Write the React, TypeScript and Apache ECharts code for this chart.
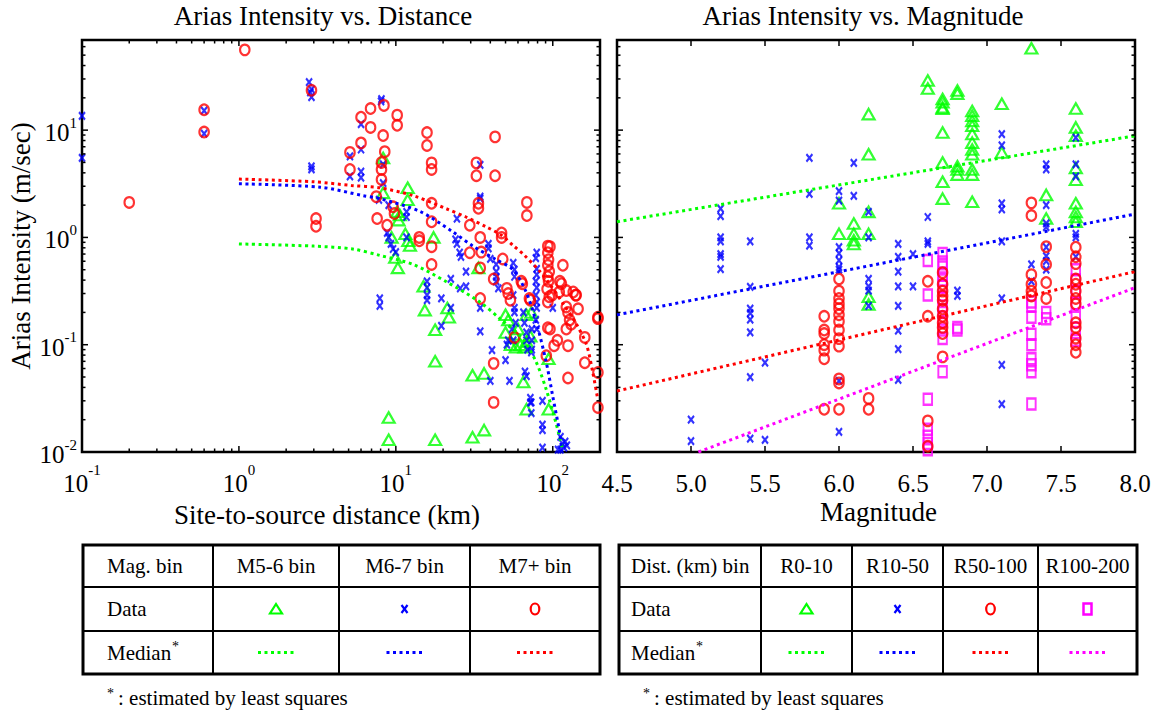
import React, { useEffect, useRef } from "react";
import * as echarts from "echarts";

const FONT = "Liberation Serif, Times New Roman, Times, serif";
const GREEN = "#00ff00";
const BLUE = "#0000ff";
const RED = "#ff0000";
const MAGENTA = "#ff00ff";

// ---------- axis ranges & tick values ----------
const distRange: [number, number] = [0.1, 200];
const aiRange: [number, number] = [0.01, 69.2];
const magRange: [number, number] = [4.5, 8.0];
const distMajor = [0.1, 1, 10, 100];
const distMinor = [0.2, 0.3, 0.4, 0.5, 0.6, 0.7, 0.8, 0.9, 2, 3, 4, 5, 6, 7, 8, 9, 20, 30, 40, 50, 60, 70, 80, 90];
const aiMajor = [0.01, 0.1, 1, 10];
const aiMinor = [0.02, 0.03, 0.04, 0.05, 0.06, 0.07, 0.08, 0.09, 0.2, 0.3, 0.4, 0.5, 0.6, 0.7, 0.8, 0.9, 2, 3, 4, 5, 6, 7, 8, 9, 20, 30, 40, 50, 60];
const magMajor = [4.5, 5.0, 5.5, 6.0, 6.5, 7.0, 7.5, 8.0];

// ---------- left panel: [distance (km), Arias intensity (m/sec)] ----------
const m56Data = [
  [8.3, 5.5], [8.3, 2.6], [11.9, 2.9], [11.9, 2.24], [10.2, 1.74], [10.6, 1.62], [10.4, 1.45], [11.5, 1.08], [12.0, 0.93], [12.3, 0.84], [9.4, 1.0],
  [9.9, 0.65], [10.3, 0.52], [17.4, 1.0], [15.0, 0.35], [15.3, 0.21], [21.3, 0.22], [21.8, 0.18], [17.8, 0.138], [17.8, 0.07],
  [30.8, 0.052], [36.5, 0.054], [9.0, 0.021], [9.0, 0.013], [17.8, 0.013], [30.8, 0.0137], [36.5, 0.016], [33.6, 0.52],
  [50, 0.19], [50, 0.13], [68, 0.107], [66, 0.095], [72, 0.12], [68, 0.19], [65, 0.045], [68, 0.025], [94, 0.074], [94, 0.025],
  [60, 0.14], [62, 0.1], [57, 0.125], [52, 0.17], [73, 0.2], [54, 0.1], [58, 0.095],
];
const m67Data = [
  [0.1, 13.6], [0.1, 5.5], [0.6, 15.2], [0.6, 9.3], [2.8, 28], [2.9, 24], [2.9, 20.3], [2.85, 22.5], [2.9, 4.6], [2.9, 4.3],
  [7.9, 0.27], [7.9, 0.23], [8.05, 18.5], [8.1, 19.5], [6.0, 11.4], [5.1, 5.7], [5.1, 3.7], [6.0, 6.6], [6.0, 4.1], [6.0, 3.6],
  [8.3, 4.8], [8.3, 3.2], [7.8, 2.24], [9.0, 2.0], [9.0, 1.0], [9.3, 0.87], [9.6, 0.78], [10.0, 0.73], [8.8, 1.1],
  [11.7, 1.73], [11.7, 1.55], [11.7, 1.0], [15.8, 0.39], [15.8, 0.34], [15.8, 0.29], [15.8, 0.26], [19.5, 0.27], [22.4, 0.41],
  [22.4, 0.22], [19.5, 0.15], [24.5, 1.5], [24, 0.96], [24.5, 0.87], [25.5, 0.72], [26, 0.66], [28, 0.48], [28, 0.35], [25.7, 0.335],
  [34.5, 2.4], [34.5, 2.3], [34.5, 4.75], [34.5, 0.22], [34.5, 0.133], [41, 0.089], [40, 0.046], [50, 0.072], [53, 0.046],
  [66.5, 0.056], [72, 0.032], [72, 0.029], [38.9, 0.87], [38.9, 0.79], [40, 0.63], [43.6, 0.56], [43.6, 0.48], [43.6, 0.43],
  [43.6, 0.39], [45, 0.335], [56, 0.58], [57, 0.5], [57, 0.43], [56, 0.29], [57, 0.22], [57, 0.2], [58, 0.16], [51, 0.1], [52, 0.11],
  [55, 0.14], [56, 0.11], [65, 0.2], [66, 0.16], [68, 0.13], [68, 0.11], [69, 0.09], [73.5, 0.14], [73.5, 0.11], [73.5, 0.09],
  [73, 0.085], [68, 0.051], [78, 0.64], [79, 0.51], [79, 0.45], [78, 0.39], [79, 0.34], [78, 0.29], [79, 0.25], [79, 0.22],
  [78, 0.17], [79, 0.14], [79, 0.72], [100, 0.22], [73, 0.029], [73, 0.023], [86, 0.03], [86, 0.018], [86, 0.016], [86, 0.011],
  [112, 0.0138], [115, 0.012], [118, 0.011], [120, 0.0125], [112, 0.0105], [123, 0.0115], [108, 0.0105],
];
const m7Data = [
  [0.2, 2.12], [0.6, 15.5], [0.6, 9.6], [1.09, 56], [2.9, 23.5], [3.1, 1.5], [3.1, 1.27],
  [5.1, 6.2], [5.1, 4.3], [6.0, 13.2], [6.9, 15.9], [6.9, 10.6], [6.0, 7.6], [8.4, 17], [8.3, 8.9], [8.5, 6.3], [8.1, 5.0],
  [8.1, 4.3], [8.1, 3.47], [7.6, 1.5], [7.5, 2.4], [9.6, 1.93], [8.8, 1.3], [10.2, 13.8], [10.2, 11.1], [9.8, 1.67],
  [15.8, 9.5], [15.8, 7.2], [16.9, 4.95], [16.9, 4.3], [16.9, 2.08], [16.9, 1.4], [16.9, 0.82], [16.9, 0.56], [14.1, 1.0], [14.1, 0.93],
  [32.6, 4.95], [32.6, 3.76], [42.9, 8.65], [42.9, 3.76], [33.6, 2.08], [33.6, 1.87], [29.6, 1.3], [34.5, 1.0], [35, 0.73],
  [34.5, 0.52], [34.5, 0.27], [29.6, 0.72], [47.2, 1.1], [47.2, 1.0], [48, 0.63], [42, 0.41], [42, 0.067], [42, 0.029],
  [68.4, 2.12], [68.4, 1.6], [51, 0.335], [52, 0.3], [53.7, 0.26], [63, 0.39], [64, 0.37], [71, 0.27], [72, 0.26], [57, 0.117],
  [93, 0.83], [96, 0.82], [93, 0.72], [94, 0.62], [93, 0.55], [95, 0.48], [93, 0.43], [94, 0.39], [92, 0.33], [95, 0.28], [93, 0.25],
  [116, 0.55], [113.5, 0.37], [141, 0.29], [145, 0.216], [122, 0.225], [125, 0.2], [128, 0.17], [131, 0.155], [122, 0.14],
  [93, 0.144], [96, 0.14], [107, 0.11], [102, 0.098], [91, 0.079], [125, 0.098], [160, 0.117], [160, 0.068], [125, 0.049],
  [194, 0.18], [194, 0.175], [194, 0.055], [194, 0.026], [99, 0.29], [110, 0.31], [122, 0.32], [135, 0.31], [111, 0.39], [140, 0.29],
];
const m56Median = [[1, 0.87], [3, 0.83], [5.3, 0.78], [7.9, 0.68], [12.9, 0.56], [21, 0.386], [34.3, 0.25], [46, 0.175], [64.6, 0.113], [78.7, 0.068], [91, 0.038], [105, 0.0185], [116, 0.0104]];
const m67Median = [[1, 3.16], [3.3, 2.94], [6.2, 2.45], [7.9, 2.3], [14.2, 1.75], [22.6, 1.15], [31, 0.83], [43.6, 0.62], [55.8, 0.5], [67.6, 0.31], [78.7, 0.16], [91, 0.068], [100, 0.033], [111, 0.0148], [114, 0.0102]];
const m7Median = [[1, 3.5], [3, 3.3], [5.2, 3.05], [7.9, 2.9], [12.9, 2.45], [21, 1.85], [28, 1.55], [37.8, 1.25], [47, 1.05], [56, 0.84], [66, 0.68], [83, 0.48], [94, 0.38], [119, 0.23], [140, 0.16], [164, 0.1], [180, 0.055], [192, 0.033]];

// ---------- right panel: [magnitude, Arias intensity (m/sec)] ----------
const r0_10Data = [
  [7.3, 58], [6.6, 29], [6.6, 24.4], [6.7, 19.5], [6.7, 18.2], [6.7, 16.3], [6.7, 15.8], [6.8, 23.4], [6.8, 21.9],
  [6.9, 15.1], [6.9, 13.6], [6.9, 12.2], [6.9, 11], [6.9, 9.2], [6.9, 7.65], [6.9, 6.6], [6.9, 5.95], [7.1, 17.6], [7.1, 6.2],
  [6.7, 9.5], [6.7, 5.0], [6.7, 3.3], [6.7, 2.3], [6.8, 4.6], [6.8, 4.3], [6.8, 3.85], [6.9, 4.3], [6.9, 3.85], [6.9, 2.15],
  [6.2, 14.1], [6.2, 5.95], [6.2, 1.73], [6.2, 1.08], [6.2, 0.28], [6.2, 0.237], [6.0, 2.08], [6.0, 1.08], [6.1, 1.35], [6.1, 1.08],
  [6.1, 0.94], [6.1, 0.87], [7.4, 2.49], [7.4, 1.5], [7.6, 15.9], [7.6, 10.6], [7.6, 8.85], [7.6, 4.45], [7.6, 3.45], [7.6, 2.08],
  [7.6, 1.73], [7.6, 1.55], [7.6, 1.4],
];
const r10_50Data = [
  [5.8, 5.5], [5.8, 2.55], [5.8, 1.0], [5.8, 0.84], [6.1, 4.95], [6.1, 2.44], [6.0, 2.7], [6.0, 2.2], [6.0, 0.81], [6.0, 0.71],
  [6.0, 0.61], [6.0, 0.53], [6.0, 0.5], [6.0, 0.046], [6.0, 0.0154], [5.2, 1.86], [5.2, 1.58], [5.2, 1.0], [5.2, 0.92], [5.2, 0.7],
  [5.2, 0.66], [5.2, 0.506], [5.4, 0.92], [5.4, 0.346], [5.4, 0.217], [5.4, 0.197], [5.4, 0.171], [5.4, 0.13], [5.4, 0.05],
  [5.4, 0.0133], [5.5, 0.068], [5.5, 0.013], [5.0, 0.02], [5.0, 0.0126], [6.2, 1.73], [6.2, 1.0], [6.2, 0.41], [6.2, 0.35],
  [6.2, 0.32], [6.2, 0.23], [6.4, 0.87], [6.4, 0.66], [6.4, 0.48], [6.4, 0.35], [6.4, 0.23], [6.4, 0.135], [6.4, 0.091], [6.4, 0.047],
  [6.5, 0.7], [6.5, 0.35], [6.6, 1.55], [6.6, 0.92], [6.6, 0.87], [6.8, 0.32], [6.8, 0.285], [7.1, 9.2], [7.1, 7.2], [7.1, 2.08],
  [7.1, 1.83], [7.1, 0.92], [7.1, 0.27], [7.1, 0.065], [7.1, 0.028], [7.3, 0.56], [7.3, 0.39], [7.4, 4.8], [7.4, 4.3], [7.4, 2.0],
  [7.4, 1.35], [7.4, 1.25], [7.4, 0.81], [7.4, 0.67], [7.4, 0.6], [7.4, 0.5], [7.6, 8.5], [7.6, 4.8], [7.6, 3.7], [7.6, 1.08],
  [7.6, 1.0], [7.6, 0.66],
];
const r50_100Data = [
  [5.9, 0.184], [5.9, 0.137], [5.9, 0.127], [5.9, 0.1], [5.9, 0.089], [5.9, 0.074], [5.9, 0.025],
  [6.0, 0.41], [6.0, 0.316], [6.0, 0.27], [6.0, 0.24], [6.0, 0.217], [6.0, 0.19], [6.0, 0.165], [6.0, 0.137], [6.0, 0.114],
  [6.0, 0.097], [6.0, 0.048], [6.0, 0.044], [6.0, 0.025], [6.2, 0.0316], [6.2, 0.025], [6.6, 0.39], [6.6, 0.184], [6.6, 0.0195],
  [6.6, 0.0113], [6.7, 0.47], [6.7, 0.366], [6.7, 0.316], [6.7, 0.285], [6.7, 0.26], [6.7, 0.215], [6.7, 0.184], [6.7, 0.16],
  [6.7, 0.145], [6.7, 0.127], [6.7, 0.077], [7.3, 2.1], [7.3, 1.6], [7.3, 0.45], [7.3, 0.366], [7.3, 0.316], [7.3, 0.285],
  [7.4, 0.82], [7.4, 0.56], [7.4, 0.38], [7.4, 0.27], [7.6, 0.81], [7.6, 0.66], [7.6, 0.57], [7.6, 0.41], [7.6, 0.366],
  [7.6, 0.316], [7.6, 0.27], [7.6, 0.24], [7.6, 0.16], [7.6, 0.145], [7.6, 0.115], [7.6, 0.1], [7.6, 0.085],
];
const r100_200Data = [
  [6.6, 0.61], [6.6, 0.29], [6.6, 0.031], [6.6, 0.0163], [6.6, 0.014], [6.6, 0.012], [6.6, 0.0105],
  [6.7, 0.71], [6.7, 0.59], [6.7, 0.53], [6.7, 0.45], [6.7, 0.4], [6.7, 0.35], [6.7, 0.27], [6.7, 0.23], [6.7, 0.2], [6.7, 0.165],
  [6.7, 0.137], [6.7, 0.114], [6.7, 0.056], [6.8, 0.145], [6.8, 0.137], [7.3, 0.25], [7.3, 0.23], [7.3, 0.18], [7.3, 0.125],
  [7.3, 0.1], [7.3, 0.074], [7.3, 0.065], [7.3, 0.056], [7.3, 0.028], [7.4, 0.2], [7.4, 0.175], [7.6, 0.5], [7.6, 0.4],
  [7.6, 0.31], [7.6, 0.24], [7.6, 0.18], [7.6, 0.13], [7.6, 0.11],
];
const r0_10Median = [[4.5, 1.4], [8.0, 8.85]];
const r10_50Median = [[4.5, 0.19], [8.0, 1.65]];
const r50_100Median = [[4.5, 0.037], [8.0, 0.48]];
const r100_200Median = [[5.05, 0.01], [8.0, 0.34]];

// ---------- legend table texts ----------
const leftHeaders = ["Mag. bin", "M5-6 bin", "M6-7 bin", "M7+ bin"];
const rightHeaders = ["Dist. (km) bin", "R0-10", "R10-50", "R50-100", "R100-200"];
const rowLabels = ["Data", "Median"];
const footnote = ": estimated by least squares";

// ---------- helpers ----------
const MAJOR_LEN = 6;
const MINOR_LEN = 3.5;

const supFmt = (v: number) => {
  const l = Math.log10(v);
  const e = Math.round(l);
  if (Math.abs(l - e) > 1e-6) return "";
  return `{b|10}{s|${e}}`;
};

const symStyle = (c: string, w = 2.2) => ({ color: "rgba(0,0,0,0)", borderColor: c, borderWidth: w });

const SYM = {
  tri: { symbol: "triangle", symbolSize: [12, 10.5] },
  cross: { symbol: "path://M0,0L6,7M6,0L0,7", symbolSize: [6, 7.5] },
  circ: { symbol: "circle", symbolSize: [9.5, 10.5] },
  sq: { symbol: "rect", symbolSize: [8.5, 11] },
};

const scatter = (xi: number, data: number[][], sym: any, color: string) => ({
  type: "scatter",
  xAxisIndex: xi,
  yAxisIndex: xi,
  data,
  ...sym,
  itemStyle: symStyle(color),
  clip: false,
  silent: true,
});

const median = (xi: number, data: number[][], color: string, smooth: boolean) => ({
  type: "line",
  xAxisIndex: xi,
  yAxisIndex: xi,
  data,
  showSymbol: false,
  symbol: "none",
  smooth: smooth ? 0.3 : false,
  silent: true,
  lineStyle: { color, width: 3, type: [3, 3.6] },
  z: 3,
});

const tickLine = (x1: number, y1: number, x2: number, y2: number) => ({
  type: "line",
  shape: { x1, y1, x2, y2 },
  style: { stroke: "#000", lineWidth: 1.5 },
});

const xTicks = (xi: number, major: number[], minor: number[], yr: [number, number]) => ({
  type: "custom",
  xAxisIndex: xi,
  yAxisIndex: xi,
  silent: true,
  z: 4,
  data: [...major.map((v) => [v, yr[0], MAJOR_LEN]), ...minor.map((v) => [v, yr[0], MINOR_LEN])],
  renderItem: (_p: any, api: any) => {
    const v = api.value(0);
    const len = api.value(2);
    const b = api.coord([v, yr[0]]);
    const t = api.coord([v, yr[1]]);
    return {
      type: "group",
      children: [tickLine(b[0], b[1], b[0], b[1] - len), tickLine(t[0], t[1], t[0], t[1] + len)],
    };
  },
});

const yTicks = (xi: number, major: number[], minor: number[], xr: [number, number]) => ({
  type: "custom",
  xAxisIndex: xi,
  yAxisIndex: xi,
  silent: true,
  z: 4,
  data: [...major.map((v) => [xr[0], v, MAJOR_LEN]), ...minor.map((v) => [xr[0], v, MINOR_LEN])],
  renderItem: (_p: any, api: any) => {
    const v = api.value(1);
    const len = api.value(2);
    const l = api.coord([xr[0], v]);
    const r = api.coord([xr[1], v]);
    return {
      type: "group",
      children: [tickLine(l[0], l[1], l[0] + len, l[1]), tickLine(r[0], r[1], r[0] - len, r[1])],
    };
  },
});

const txt = (x: number, y: number, text: string, align = "left", size = 21) => ({
  type: "text",
  x,
  y,
  silent: true,
  style: {
    text,
    fill: "#000",
    font: `${size}px ${FONT}`,
    textAlign: align,
    textVerticalAlign: "middle",
  },
});

const hline = (x1: number, x2: number, y: number, w: number) => ({
  type: "line", silent: true, shape: { x1, y1: y, x2, y2: y }, style: { stroke: "#000", lineWidth: w },
});
const vline = (x: number, y1: number, y2: number, w: number) => ({
  type: "line", silent: true, shape: { x1: x, y1, x2: x, y2 }, style: { stroke: "#000", lineWidth: w },
});

const ROW_Y = [566, 609, 652.5];
const TOP = 545, R1 = 587, R2 = 631, BOT = 674;

function table(cols: number[], headers: string[], markers: string[], colors: string[], textOff: number) {
  const els: any[] = [];
  const x0 = cols[0], x1 = cols[cols.length - 1];
  els.push(hline(x0, x1, R1, 2), hline(x0, x1, R2, 2));
  for (let i = 1; i < cols.length - 1; i++) els.push(vline(cols[i], TOP, BOT, 2));
  els.push({ type: "rect", silent: true, shape: { x: x0, y: TOP, width: x1 - x0, height: BOT - TOP }, style: { fill: "none", stroke: "#000", lineWidth: 3 } });
  els.push(txt(x0 + textOff, ROW_Y[0], headers[0]));
  els.push(txt(x0 + textOff, ROW_Y[1], rowLabels[0]));
  els.push(txt(x0 + textOff, ROW_Y[2], rowLabels[1]));
  els.push(txt(x0 + textOff + 65, ROW_Y[2] - 6, "*", "left", 14));
  for (let i = 1; i < headers.length; i++) {
    const cx = (cols[i] + cols[i + 1]) / 2;
    const c = colors[i - 1];
    els.push(txt(cx, ROW_Y[0], headers[i], "center"));
    const cy = ROW_Y[1];
    const m = markers[i - 1];
    const st = { fill: "none", stroke: c, lineWidth: 2.2 };
    if (m === "tri") els.push({ type: "polygon", silent: true, shape: { points: [[cx - 6, cy + 4.5], [cx + 6, cy + 4.5], [cx, cy - 5]] }, style: st });
    if (m === "cross") els.push(
      { type: "line", silent: true, shape: { x1: cx - 3, y1: cy - 4, x2: cx + 3, y2: cy + 4 }, style: st },
      { type: "line", silent: true, shape: { x1: cx + 3, y1: cy - 4, x2: cx - 3, y2: cy + 4 }, style: st },
    );
    if (m === "circ") els.push({ type: "ellipse", silent: true, shape: { cx, cy, rx: 4.3, ry: 5.5 }, style: st });
    if (m === "sq") els.push({ type: "rect", silent: true, shape: { x: cx - 4, y: cy - 5.5, width: 8, height: 11 }, style: { ...st, lineWidth: 2.5 } });
    els.push({ type: "line", silent: true, shape: { x1: cx - 18, y1: ROW_Y[2], x2: cx + 18, y2: ROW_Y[2] }, style: { stroke: c, lineWidth: 3, lineDash: [3, 3.5] } });
  }
  els.push(txt(x0 + 24, 693, "*", "left", 14));
  els.push(txt(x0 + 35, 698, footnote));
  return els;
}

const axisNameStyle = { fontFamily: FONT, fontSize: 27, color: "#000" };

const option: any = {
  animation: false,
  backgroundColor: "#fff",
  grid: [
    { left: 82, top: 40, width: 518, height: 412, show: true, borderColor: "#000", borderWidth: 2.5, backgroundColor: "rgba(0,0,0,0)", containLabel: false, outerBoundsMode: "none" },
    { left: 617, top: 40, width: 518, height: 412, show: true, borderColor: "#000", borderWidth: 2.5, backgroundColor: "rgba(0,0,0,0)", containLabel: false, outerBoundsMode: "none" },
  ],
  xAxis: [
    {
      gridIndex: 0, type: "log", logBase: 10, min: distRange[0], max: distRange[1],
      axisLine: { show: false }, axisTick: { show: false }, splitLine: { show: false },
      axisLabel: {
        formatter: supFmt, margin: 10, showMinLabel: true, showMaxLabel: true, hideOverlap: false,
        rich: {
          b: { fontFamily: FONT, fontSize: 25, lineHeight: 34, verticalAlign: "bottom", color: "#000" },
          s: { fontFamily: FONT, fontSize: 15, verticalAlign: "top", color: "#000" },
        },
      },
      name: "Site-to-source distance (km)", nameLocation: "middle", nameGap: 49, nameMoveOverlap: false,
      nameTextStyle: { ...axisNameStyle, padding: [0, 28, 0, 0] },
    },
    {
      gridIndex: 1, type: "value", min: magRange[0], max: magRange[1], interval: 0.5,
      axisLine: { show: false }, axisTick: { show: false }, splitLine: { show: false },
      axisLabel: { formatter: (v: number) => v.toFixed(1), margin: 19, fontFamily: FONT, fontSize: 25, color: "#000", showMinLabel: true, showMaxLabel: true, hideOverlap: false },
      name: "Magnitude", nameLocation: "middle", nameGap: 46, nameMoveOverlap: false,
      nameTextStyle: { ...axisNameStyle, padding: [0, 0, 0, 5] },
    },
  ],
  yAxis: [
    {
      gridIndex: 0, type: "log", logBase: 10, min: aiRange[0], max: aiRange[1],
      axisLine: { show: false }, axisTick: { show: false }, splitLine: { show: false },
      axisLabel: {
        formatter: supFmt, margin: 5, showMinLabel: true, showMaxLabel: true, hideOverlap: false,
        rich: {
          b: { fontFamily: FONT, fontSize: 25, lineHeight: 30, verticalAlign: "bottom", color: "#000" },
          s: { fontFamily: FONT, fontSize: 15, verticalAlign: "top", color: "#000" },
        },
      },
      name: "Arias Intensity (m/sec)", nameLocation: "middle", nameGap: 48, nameMoveOverlap: false,
      nameTextStyle: axisNameStyle,
    },
    {
      gridIndex: 1, type: "log", logBase: 10, min: aiRange[0], max: aiRange[1],
      axisLine: { show: false }, axisTick: { show: false }, splitLine: { show: false },
      axisLabel: { show: false },
    },
  ],
  series: [
    scatter(0, m56Data, SYM.tri, GREEN),
    scatter(0, m67Data, SYM.cross, BLUE),
    scatter(0, m7Data, SYM.circ, RED),
    median(0, m56Median, GREEN, true),
    median(0, m67Median, BLUE, true),
    median(0, m7Median, RED, true),
    xTicks(0, distMajor, distMinor, aiRange),
    yTicks(0, aiMajor, aiMinor, distRange),

    scatter(1, r100_200Data, SYM.sq, MAGENTA),
    scatter(1, r0_10Data, SYM.tri, GREEN),
    scatter(1, r10_50Data, SYM.cross, BLUE),
    scatter(1, r50_100Data, SYM.circ, RED),
    median(1, r0_10Median, GREEN, false),
    median(1, r10_50Median, BLUE, false),
    median(1, r50_100Median, RED, false),
    median(1, r100_200Median, MAGENTA, false),
    xTicks(1, magMajor, [], aiRange),
    yTicks(1, aiMajor, aiMinor, magRange),
  ],
  graphic: [
    txt(323, 16, "Arias Intensity vs. Distance", "center", 27),
    txt(863, 16, "Arias Intensity vs. Magnitude", "center", 27),
    ...table([83, 213, 339, 470, 600], leftHeaders, ["tri", "cross", "circ"], [GREEN, BLUE, RED], 24),
    ...table([619, 761, 852, 943, 1038, 1137], rightHeaders, ["tri", "cross", "circ", "sq"], [GREEN, BLUE, RED, MAGENTA], 12),
  ],
};

export default function App() {
  const ref = useRef<HTMLDivElement>(null);
  useEffect(() => {
    const chart = echarts.init(ref.current!, null, { renderer: "svg" });
    chart.setOption(option);
    return () => chart.dispose();
  }, []);
  return (
    <div
      ref={ref}
      style={{ position: "absolute", left: 0, top: 0, width: 1158, height: 712, background: "#fff" }}
    />
  );
}
